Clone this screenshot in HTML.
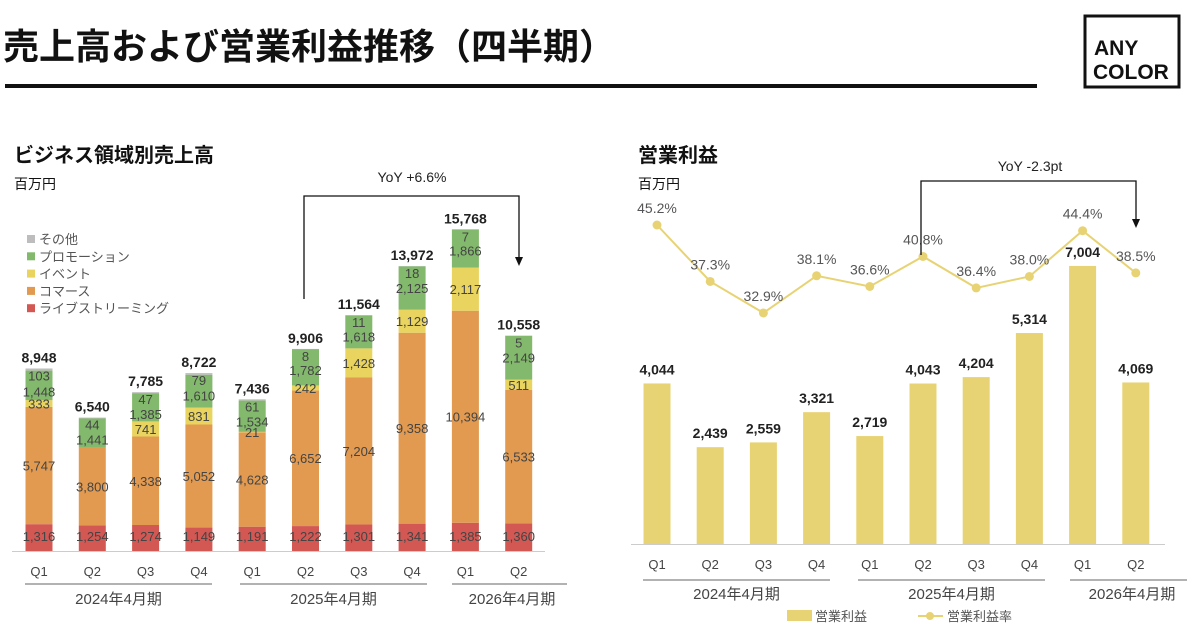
<!DOCTYPE html>
<html><head><meta charset="utf-8">
<style>
body{margin:0;background:#fff;width:1200px;height:637px;overflow:hidden;font-family:"Liberation Sans","Noto Sans CJK JP",sans-serif;}
svg{display:block}
</style></head>
<body>
<svg id="s" width="1200" height="637" xmlns="http://www.w3.org/2000/svg" font-family="Liberation Sans, Noto Sans CJK JP, sans-serif">
<text x="3" y="59" font-size="36" font-weight="bold" fill="#111">売上高および営業利益推移（四半期）</text>
<rect x="5" y="84" width="1032" height="4" fill="#111"/>
<g>
<rect x="1085" y="16" width="94" height="71" fill="none" stroke="#111" stroke-width="3"/>
<text x="1094" y="55" font-size="21" font-weight="900" fill="#111">ANY</text>
<text x="1093" y="79" font-size="21" font-weight="900" fill="#111">COLOR</text>
</g>
<text x="14" y="162" font-size="20" font-weight="bold" fill="#111">ビジネス領域別売上高</text>
<text x="14" y="189" font-size="14" fill="#111">百万円</text>
<text x="638" y="162" font-size="20" font-weight="bold" fill="#111">営業利益</text>
<text x="638" y="189" font-size="14" fill="#111">百万円</text>
<g id="left"></g>
<g id="right"></g>
</svg>
<script>
const quarters=["Q1","Q2","Q3","Q4","Q1","Q2","Q3","Q4","Q1","Q2"];
const live=[1316,1254,1274,1149,1191,1222,1301,1341,1385,1360];
const commerce=[5747,3800,4338,5052,4628,6652,7204,9358,10394,6533];
const eventS=[333,0,741,831,21,242,1428,1129,2117,511];
const promo=[1448,1441,1385,1610,1534,1782,1618,2125,1866,2149];
const other=[103,44,47,79,61,8,11,18,7,5];
const totals=[8948,6540,7785,8722,7436,9906,11564,13972,15768,10558];
const eventLabels=["333","","741","831","21","242","1,428","1,129","2,117","511"];
const profit=[4044,2439,2559,3321,2719,4043,4204,5314,7004,4069];
const margin=[45.2,37.3,32.9,38.1,36.6,40.8,36.4,38.0,44.4,38.5];
const years=["2024年4月期","2025年4月期","2026年4月期"];

const NS="http://www.w3.org/2000/svg";
function mk(p,tag,at,txt){const e=document.createElementNS(NS,tag);for(const k in at)e.setAttribute(k,at[k]);if(txt!==undefined)e.textContent=txt;p.appendChild(e);return e;}
const fmt=v=>v.toLocaleString("en-US");

// LEFT
const L=document.getElementById("left");
const lx=i=>39+i*53.3, lBase=551, ly=v=>v*0.0204, bw=27;
const series=[live,commerce,eventS,promo,other];
const cols=["#d35853","#e29a50","#e8d45e","#83b96c","#bdbdbd"];
const names=["live","commerce","event","promotion","other"];
for(let i=0;i<quarters.length;i++){
  let acc=0;
  series.forEach((s,k)=>{
    const h=ly(s[i]);const y=lBase-ly(acc)-h;
    const r=mk(L,"rect",{x:lx(i)-bw/2,y:y,width:bw,height:Math.max(h,0),fill:cols[k]});
    
    
    acc+=s[i];
  });
  let a2=0;
  series.forEach((s,k)=>{
    const h=ly(s[i]);const yc=lBase-ly(a2)-h/2;a2+=s[i];
    let lab=k===2?eventLabels[i]:fmt(s[i]);if(!lab)return;
    let yy=yc+5;
    if(k===4) yy=lBase-ly(a2)+12;
    if(k===3) yy=Math.max(yy,lBase-ly(a2)+26);
    if(k===0) yy=lBase-10;
    const t=mk(L,"text",{x:lx(i),y:yy,"text-anchor":"middle","font-size":13,fill:"#444"},lab);
    
    
  });
  const tt=mk(L,"text",{x:lx(i),y:lBase-ly(totals[i])-6,"text-anchor":"middle","font-size":14,"font-weight":"bold",fill:"#222"},fmt(totals[i]));
  
  
  const q=mk(L,"text",{x:lx(i),y:576,"text-anchor":"middle","font-size":13,fill:"#444"},quarters[i]);
  
  
}
mk(L,"line",{x1:12,x2:545,y1:lBase+0.5,y2:lBase+0.5,stroke:"#ccc"});
[[25,212],[240,427],[452,567]].forEach((g,j)=>{
  mk(L,"line",{x1:g[0],x2:g[1],y1:584,y2:584,stroke:"#999","stroke-width":1.5});
  const t=mk(L,"text",{x:j==2?512:(g[0]+g[1])/2,y:604,"text-anchor":"middle","font-size":15,fill:"#444"},years[j]);
  
  
});
const legN=["その他","プロモーション","イベント","コマース","ライブストリーミング"];
const legC=["#bdbdbd","#83b96c","#e8d45e","#e29a50","#d35853"];
legN.forEach((n,k)=>{
  const g=mk(L,"g",{});
  
  
  mk(g,"rect",{x:27,y:235+k*17.3,width:8,height:8,fill:legC[k]});
  mk(g,"text",{x:39,y:244+k*17.3,"font-size":13,fill:"#555"},n);
});
const b1=mk(L,"path",{d:"M304,299 V196 H519 V258",fill:"none",stroke:"#111","stroke-width":1.3});


mk(L,"path",{d:"M515,257 L523,257 L519,266 Z",fill:"#111"});
const y1=mk(L,"text",{x:412,y:182,"text-anchor":"middle","font-size":14,fill:"#222"},"YoY +6.6%");



// RIGHT
const R=document.getElementById("right");
const rx=i=>657+i*53.2, rBase=544, ry=v=>v*0.0397, rw=27;
const my=v=>225-(v-45.2)*7.15;
for(let i=0;i<profit.length;i++){
  const h=ry(profit[i]);
  const r=mk(R,"rect",{x:rx(i)-rw/2,y:rBase-h,width:rw,height:h,fill:"#e8d374"});
  
  
  const t=mk(R,"text",{x:rx(i),y:rBase-h-9,"text-anchor":"middle","font-size":14,"font-weight":"bold",fill:"#222"},fmt(profit[i]));
  
  
  const q=mk(R,"text",{x:rx(i),y:569,"text-anchor":"middle","font-size":13,fill:"#444"},quarters[i]);
  
  
}
const pts=margin.map((m,i)=>rx(i)+","+my(m)).join(" ");
const pl=mk(R,"polyline",{points:pts,fill:"none",stroke:"#e8d374","stroke-width":2});


margin.forEach((m,i)=>{
  const c=mk(R,"circle",{cx:rx(i),cy:my(m),r:4.5,fill:"#e8d374"});
  
  
  const t=mk(R,"text",{x:rx(i),y:my(m)-12,"text-anchor":"middle","font-size":14,fill:"#555"},m.toFixed(1)+"%");
  
  
});
mk(R,"line",{x1:631,x2:1165,y1:rBase+0.5,y2:rBase+0.5,stroke:"#ccc"});
[[643,830],[858,1045],[1070,1187]].forEach((g,j)=>{
  mk(R,"line",{x1:g[0],x2:g[1],y1:580,y2:580,stroke:"#999","stroke-width":1.5});
  const t=mk(R,"text",{x:j==2?1132:(g[0]+g[1])/2,y:599,"text-anchor":"middle","font-size":15,fill:"#444"},years[j]);
  
  
});
const lg1=mk(R,"g",{});


mk(lg1,"rect",{x:787,y:610,width:25,height:11,fill:"#e8d374"});
mk(lg1,"text",{x:815,y:621,"font-size":13,fill:"#555"},"営業利益");
const lg2=mk(R,"g",{});


mk(lg2,"line",{x1:918,x2:943,y1:616,y2:616,stroke:"#e8d374","stroke-width":2});
mk(lg2,"circle",{cx:930,cy:616,r:4,fill:"#e8d374"});
mk(lg2,"text",{x:947,y:621,"font-size":13,fill:"#555"},"営業利益率");
const b2=mk(R,"path",{d:"M921,255 V181 H1136 V220",fill:"none",stroke:"#111","stroke-width":1.3});


mk(R,"path",{d:"M1132,219 L1140,219 L1136,228 Z",fill:"#111"});
const y2=mk(R,"text",{x:1030,y:171,"text-anchor":"middle","font-size":14,fill:"#222"},"YoY -2.3pt");


</script>
</body></html>
